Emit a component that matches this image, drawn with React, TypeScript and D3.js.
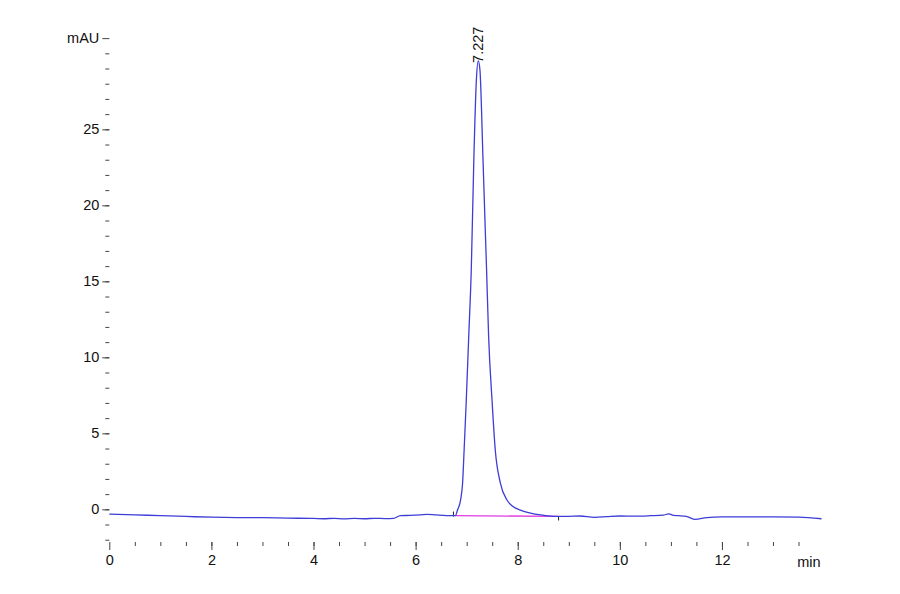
import React, { useRef, useEffect } from 'react';
import * as d3 from 'd3';

// retention time (min) and absorbance (mAU)
const traceTimes = [
  0, 0.5, 1.0, 1.5, 2.0, 2.5, 3.0, 3.5, 4.0, 4.2, 4.4, 4.6, 4.8, 5.0, 5.2, 5.4, 5.57,
  5.7, 5.9, 6.1, 6.22, 6.4, 6.6, 6.75, 6.78, 6.82, 6.88, 6.92, 6.95, 6.99, 7.04, 7.09,
  7.14, 7.19, 7.227, 7.26, 7.32, 7.39, 7.43, 7.5, 7.56, 7.66, 7.79, 7.9, 8.05, 8.25,
  8.45, 8.8, 9.0, 9.22, 9.5, 9.75, 10.0, 10.3, 10.6, 10.85, 10.96, 11.05, 11.15, 11.3,
  11.48, 11.7, 12.0, 12.5, 13.0, 13.5, 13.95,
];
const traceValues = [
  -0.31, -0.36, -0.42, -0.47, -0.52, -0.54, -0.55, -0.58, -0.6, -0.62, -0.59, -0.63, -0.6, -0.62, -0.59, -0.61, -0.59,
  -0.42, -0.4, -0.36, -0.33, -0.37, -0.41, -0.42, -0.41, -0.05, 0.61, 1.73, 3.9, 6.99, 11.36, 15.74,
  22.98, 28.24, 29.5, 28.9, 22.98, 15.74, 11.36, 6.99, 3.9, 1.73, 0.61, 0.2, -0.05, -0.25,
  -0.37, -0.47, -0.46, -0.44, -0.53, -0.48, -0.44, -0.45, -0.42, -0.38, -0.3, -0.4, -0.42, -0.46,
  -0.66, -0.54, -0.5, -0.5, -0.5, -0.52, -0.62,
];

// integration baseline of the peak
const baseStart = { t: 6.78, v: -0.41 };
const baseEnd = { t: 8.8, v: -0.47 };
const peakLabel = '7.227';
const peakTime = 7.227;
const peakValue = 29.5;

const xMajorTicks = [0, 2, 4, 6, 8, 10, 12];
const xMinorTicks = d3.range(0.5, 13.9, 0.5);
const yMajorTicks = [0, 5, 10, 15, 20, 25];
const yMinorTicks = d3.range(-2, 31, 1);
const xUnit = 'min';
const yUnit = 'mAU';

const App: React.FC = () => {
  const ref = useRef<SVGSVGElement | null>(null);

  useEffect(() => {
    if (!ref.current) return;
    const svg = d3.select(ref.current);
    svg.selectAll('*').remove();

    const axisColor = '#444';
    const font = '"Liberation Sans Narrow", "Arial Narrow", "Liberation Sans", Arial, sans-serif';
    const fontSize = 14.5;

    const x = d3.scaleLinear().domain([0, 13.95]).range([109.3, 821.5]);
    const y = d3.scaleLinear().domain([-2.15, 31.6]).range([542, 29]);

    // x axis: minor ticks then major with labels
    const xAxis = svg.append('g').attr('transform', `translate(0,${y.range()[0]})`);
    xAxis.call(d3.axisBottom(x).tickValues(xMinorTicks).tickSize(4).tickFormat(() => ''));
    xAxis.append('g').call(d3.axisBottom(x).tickValues(xMajorTicks).tickSize(8).tickPadding(5).tickFormat(d3.format('d')));
    xAxis.selectAll('.domain').attr('d', `M${x.range()[0]},0H${x.range()[1]}`);
    xAxis.selectAll('g .domain').remove();
    xAxis.selectAll('path, line').attr('stroke', axisColor);
    xAxis.selectAll('text').attr('font-family', font).attr('font-size', fontSize).attr('fill', '#111');

    svg.append('text')
      .attr('x', x.range()[1] - 1)
      .attr('y', 567)
      .attr('text-anchor', 'end')
      .attr('font-family', font)
      .attr('font-size', fontSize)
      .attr('fill', '#111')
      .text(xUnit);

    // y axis
    const yAxis = svg.append('g').attr('transform', `translate(${x.range()[0]},0)`);
    yAxis.call(d3.axisLeft(y).tickValues(yMinorTicks).tickSize(4).tickFormat(() => ''));
    yAxis.append('g').call(d3.axisLeft(y).tickValues(yMajorTicks).tickSize(7).tickPadding(3).tickFormat(d3.format('d')));
    yAxis.append('g').call(d3.axisLeft(y).tickValues([31]).tickSize(7).tickPadding(3).tickFormat(() => yUnit));
    yAxis.selectAll('.domain').attr('d', `M0,${y.range()[0]}V${y.range()[1]}`);
    yAxis.selectAll('g .domain').remove();
    yAxis.selectAll('path, line').attr('stroke', axisColor);
    yAxis.selectAll('text').attr('font-family', font).attr('font-size', fontSize).attr('fill', '#111');

    // integration baseline
    svg.append('line')
      .attr('x1', x(baseStart.t)).attr('y1', y(baseStart.v))
      .attr('x2', x(baseEnd.t)).attr('y2', y(baseEnd.v))
      .attr('stroke', '#e23ce2')
      .attr('stroke-width', 1.3);

    // peak start / end markers
    svg.append('line')
      .attr('x1', x(baseStart.t) - 2).attr('x2', x(baseStart.t) - 2)
      .attr('y1', y(baseStart.v) - 4).attr('y2', y(baseStart.v) + 1)
      .attr('stroke', '#222').attr('stroke-width', 1);
    svg.append('line')
      .attr('x1', x(baseEnd.t)).attr('x2', x(baseEnd.t))
      .attr('y1', y(baseEnd.v)).attr('y2', y(baseEnd.v) + 4)
      .attr('stroke', '#222').attr('stroke-width', 1);

    // chromatogram trace
    const points = traceTimes.map((t, i) => [t, traceValues[i]] as [number, number]);
    const line = d3.line<[number, number]>()
      .x(d => x(d[0]))
      .y(d => y(d[1]))
      .curve(d3.curveMonotoneX);

    svg.append('path')
      .datum(points)
      .attr('fill', 'none')
      .attr('stroke', '#3d3dd8')
      .attr('stroke-width', 1.3)
      .attr('d', line);

    // retention time label
    const lx = x(peakTime) + 4.5;
    const ly = y(peakValue) + 2;
    svg.append('text')
      .attr('transform', `translate(${lx},${ly}) rotate(-90)`)
      .attr('font-family', font)
      .attr('font-size', fontSize)
      .attr('fill', '#111')
      .text(peakLabel);
  }, []);

  return (
    <svg
      ref={ref}
      width={900}
      height={594}
      style={{ position: 'absolute', left: 0, top: 0, background: '#fff' }}
    />
  );
};

export default App;
